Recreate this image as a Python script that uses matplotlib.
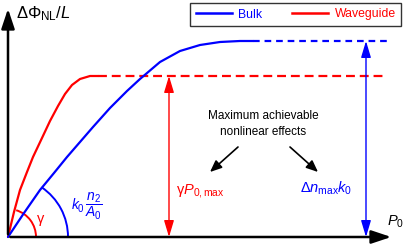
import matplotlib
matplotlib.use("Agg")
import matplotlib.pyplot as plt
from matplotlib.patches import Arc
from matplotlib.lines import Line2D

plt.rcParams["font.family"] = ["Liberation Sans", "DejaVu Sans"]
plt.rcParams["mathtext.fontset"] = "custom"
plt.rcParams["mathtext.rm"] = "Liberation Sans"
plt.rcParams["mathtext.it"] = "Liberation Sans:italic"
plt.rcParams["mathtext.bf"] = "Liberation Sans:bold"

# normalised input power P0 and phase per length (arbitrary units)
wg_p = [0, 0.06, 0.12, 0.19, 0.25, 0.34, 0.42, 0.50, 0.57, 0.64, 0.72, 0.82, 0.90]
wg_phi = [0, 0.25, 0.47, 0.65, 0.80, 0.99, 1.16, 1.31, 1.43, 1.52, 1.58, 1.61, 1.61]
bulk_p = [0, 0.16, 0.32, 0.46, 0.59, 0.72, 0.85, 1.02, 1.19, 1.32, 1.52, 1.72, 1.92, 2.12, 2.32, 2.45]
bulk_phi = [0, 0.24, 0.47, 0.64, 0.80, 0.95, 1.10, 1.29, 1.46, 1.58, 1.75, 1.86, 1.92, 1.95, 1.96, 1.96]
wg_max = 1.61
bulk_max = 1.96
p_end = [3.75, 3.79]
wg_arrow_p = 1.61
bulk_arrow_p = 3.58
slope_angles = [73, 56]  # degrees, waveguide / bulk
arc_radii = [0.28, 0.60]

RED = "#ff0000"
BLUE = "#0000ff"

fig = plt.figure(figsize=(4.08, 2.46), dpi=100)
ax = fig.add_axes([0, 0, 1, 1])
ax.set_xlim(-0.08, 4.00)
ax.set_ylim(-0.09, 2.37)
ax.set_axis_off()

# axes with arrow heads
ax.annotate("", xy=(0, 2.31), xytext=(0, 0),
            arrowprops=dict(arrowstyle="-|>,head_length=1.2,head_width=0.4", color="black", lw=1.8))
ax.annotate("", xy=(3.86, 0), xytext=(-0.005, 0),
            arrowprops=dict(arrowstyle="-|>,head_length=1.2,head_width=0.4", color="black", lw=1.8))

# curves
ax.plot(wg_p, wg_phi, color=RED, lw=1.6, solid_capstyle="round")
ax.plot([wg_p[-1], p_end[0]], [wg_max, wg_max], color=RED, lw=1.6, dashes=(4.0, 2.2))
ax.plot(bulk_p, bulk_phi, color=BLUE, lw=1.6, solid_capstyle="round")
ax.plot([bulk_p[-1], p_end[1]], [bulk_max, bulk_max], color=BLUE, lw=1.6, dashes=(3.0, 2.2))

# slope angle arcs
ax.add_patch(Arc((0, 0), 2 * arc_radii[0], 2 * arc_radii[0], theta1=0, theta2=slope_angles[0], color=RED, lw=1.4))
ax.add_patch(Arc((0, 0), 2 * arc_radii[1], 2 * arc_radii[1], theta1=0, theta2=slope_angles[1], color=BLUE, lw=1.4))

# vertical double arrows
dbl = "<|-|>,head_length=1.0,head_width=0.3"
ax.annotate("", xy=(wg_arrow_p, 0), xytext=(wg_arrow_p, wg_max),
            arrowprops=dict(arrowstyle=dbl, color=RED, lw=1.0, shrinkA=0, shrinkB=0))
ax.annotate("", xy=(bulk_arrow_p, 0), xytext=(bulk_arrow_p, bulk_max),
            arrowprops=dict(arrowstyle=dbl, color=BLUE, lw=1.0, shrinkA=0, shrinkB=0))

# black pointer arrows
blk = dict(arrowstyle="-|>,head_length=0.7,head_width=0.3", color="black", lw=1.2, shrinkA=0, shrinkB=0)
ax.annotate("", xy=(2.02, 0.65), xytext=(2.30, 0.90), arrowprops=blk)
ax.annotate("", xy=(3.10, 0.65), xytext=(2.82, 0.90), arrowprops=blk)

# texts
ax.text(0.08, 2.23, r"$\mathrm{ΔΦ}_{\mathrm{NL}}/L$", fontsize=12, ha="left", va="center")
ax.text(3.88, 0.15, r"$P_0$", fontsize=10.5, ha="center", va="center")
ax.text(0.33, 0.16, r"$\mathrm{γ}$", fontsize=10.5, color=RED, ha="center", va="center")
ax.text(0.79, 0.31, r"$k_0\,\dfrac{n_2}{A_0}$", fontsize=10, color=BLUE, ha="center", va="center")
ax.text(1.68, 0.46, r"$\mathrm{γ}P_{0,\mathrm{max}}$", fontsize=10.5, color=RED, ha="left", va="center")
ax.text(3.18, 0.49, r"$\mathrm{Δ}n_{\mathrm{max}}k_0$", fontsize=10.5, color=BLUE, ha="center", va="center")
ax.text(2.55, 1.13, "Maximum achievable\nnonlinear effects", fontsize=8.5, ha="center", va="center",
        linespacing=1.35)

handles = [Line2D([], [], color=BLUE, lw=1.8), Line2D([], [], color=RED, lw=1.8)]
leg = ax.legend(handles, ["Bulk", "Waveguide"], ncol=2, loc="upper left",
                bbox_to_anchor=(190 / 408, 1 - 3 / 246), bbox_transform=fig.transFigure,
                borderaxespad=0, fancybox=False, frameon=True, fontsize=8.8,
                handlelength=3.0, handletextpad=0.5, columnspacing=2.4,
                borderpad=0.45)
leg.get_frame().set_edgecolor("black")
leg.get_frame().set_linewidth(1.0)
for t, c in zip(leg.get_texts(), [BLUE, RED]):
    t.set_color(c)

fig.savefig("out.png", dpi=100)
